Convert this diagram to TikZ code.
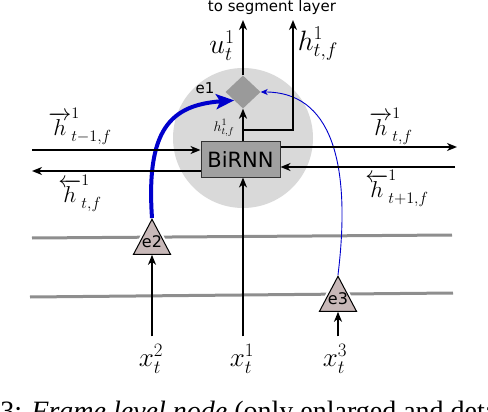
\RequirePackage{fix-cm}
\documentclass[tikz,border=0pt]{standalone}
\usepackage{fontspec}
\newfontfamily\sansdv{DejaVu Sans}
\newfontfamily\capserif{Liberation Serif}
\usetikzlibrary{arrows.meta,shapes.geometric}
\definecolor{halo}{HTML}{D9D9D9}
\definecolor{boxgray}{HTML}{A0A0A0}
\definecolor{diagray}{HTML}{9A9A9A}
\definecolor{trifill}{HTML}{C8B8B8}
\definecolor{lanegray}{HTML}{8E8E8E}
\definecolor{dblue}{HTML}{0000CC}
\begin{document}
\begin{tikzpicture}[x=1pt,y=-1pt,
  arr/.style={-{Stealth[length=10pt,width=8pt,inset=3pt]}, line width=1.6pt},
  lane/.style={draw=lanegray, line width=3pt},
  rnnbox/.style={draw=black!80, line width=1pt, fill=boxgray, minimum width=79pt, minimum height=35pt, inner sep=0pt, font=\sansdv\fontsize{21}{21}\selectfont},
  gate/.style={diamond, fill=diagray, minimum width=35pt, minimum height=33pt, inner sep=0pt},
  tri/.style={isosceles triangle, isosceles triangle stretches, shape border rotate=90, minimum width=37pt, minimum height=35pt, inner sep=0pt, fill=trifill, draw=black, line width=1pt, preaction={draw=white, line width=5pt}},
  sanslbl/.style={font=\sansdv\fontsize{15}{15}\selectfont, inner sep=0pt},
  bigmath/.style={font=\fontsize{27}{27}\selectfont, inner sep=0pt},
  midmath/.style={font=\fontsize{28}{28}\selectfont, inner sep=0pt},
  hmath/.style={font=\fontsize{23}{23}\selectfont, inner sep=0pt}
]
\useasboundingbox (0,0) rectangle (488,412);

% enlarged node area
\fill[halo] (243,138) circle (70pt);

% lanes
\draw[lane] (32,238) -- (452,235);
\draw[lane] (30,297) -- (453,293);

% nodes
\node[rnnbox] (rnn) at (240.5,159.5) {BiRNN};
\node[gate] (e1) at (243,92) {};
\node[sanslbl] (e1lbl) at (205,88) {e1};
\node[tri, anchor=apex] (e2) at (152,218) {};
\node[tri, anchor=apex] (e3) at (338,275) {};
\node[sanslbl, font=\sansdv\fontsize{16}{16}\selectfont] (e2lbl) at (152,242) {e2};
\node[sanslbl, font=\sansdv\fontsize{16}{16}\selectfont] (e3lbl) at (338,299) {e3};

% inputs
\node[bigmath] (x2) at (151,359) {$x_t^2$};
\node[bigmath] (x1) at (242,359) {$x_t^1$};
\node[bigmath] (x3) at (335,359) {$x_t^3$};

% top
\node[sanslbl] (seg) at (272,7) {to segment layer};
\coordinate (topu) at (243,20);
\coordinate (toph) at (293,20);
\coordinate (br) at (243,130);

% side coordinates
\coordinate (L1) at (32,150);
\coordinate (L2) at (32,171);
\coordinate (R1) at (457,147);
\coordinate (R2) at (455,167);

% blue connections
\draw[line width=4pt, draw=dblue, -{Stealth[length=18pt,width=15pt,inset=4pt]}]
  (e2.apex) .. controls (146,130) and (170,105) .. (e1.south west);
\draw[line width=0.9pt, draw=dblue, -{Stealth[length=7pt,width=6pt,inset=2pt]}]
  (e3.apex) .. controls (352,160) and (330,92) .. (e1.east);

% black connections
\draw[arr] (L1) -- (rnn.west |- L1);
\draw[arr] (rnn.west |- L2) -- (L2);
\draw[arr] (rnn.east |- R1) -- (R1);
\draw[arr] (R2) -- (rnn.east |- R2);
\draw[arr] (e1 |- rnn.north) -- (e1.south);
\draw[arr] (e1.north) -- (topu);
\draw[arr] (br) -| (toph);
\draw[arr] ([yshift=8pt]x1.north -| e1) -- (e1 |- rnn.south);
\draw[arr] ([yshift=8pt]x2.north -| e2.apex) -- (e2.south);
\draw[arr] ([yshift=8pt]x3.north -| e3.apex) -- (e3.south);

% labels
\node[midmath] (lu) at (222,46) {$u_t^1$};
\node[midmath] (lh) at (318,44) {$h_{t,f}^1$};
\node[font=\fontsize{14}{14}\selectfont, inner sep=0pt] (lsmall) at (224,128) {$h_{t,f}^1$};
\node[hmath] (lhl1) at (80,126) {$\overrightarrow{h}^1_{t-1,f}$};
\node[hmath] (lhl2) at (80,193) {$\overleftarrow{h}^1_{t,f}$};
\node[hmath] (lhr1) at (391,126) {$\overrightarrow{h}^1_{t,f}$};
\node[hmath] (lhr2) at (397,188) {$\overleftarrow{h}^1_{t+1,f}$};

% cut caption
\node[anchor=base west, inner sep=0pt, font=\capserif\fontsize{28}{28}\selectfont] (cap) at (-80,420) {Figure 3: \textit{Frame level node} (only enlarged and detailed};
\end{tikzpicture}
\end{document}
